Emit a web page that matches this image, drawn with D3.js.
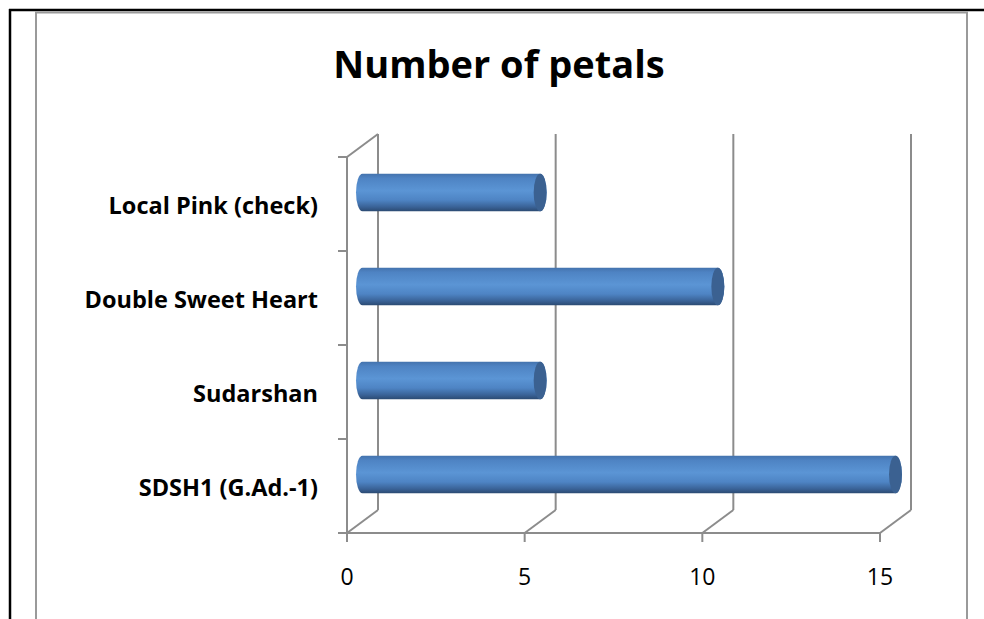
<!DOCTYPE html>
<html>
<head>
<meta charset="utf-8">
<script src="https://cdn.jsdelivr.net/npm/d3@7"></script>
<style>
  body { margin: 0; background: #fff; }
  svg { display: block; }
</style>
</head>
<body>
<div class="chart"></div>
<script>
// data, top to bottom as shown
const categories = ['Local Pink (check)', 'Double Sweet Heart', 'Sudarshan', 'SDSH1 (G.Ad.-1)'];
const petals = [5, 10, 5, 15];
const xTicks = [0, 5, 10, 15];
const title = 'Number of petals';

const W = 984, H = 619;
const gridColor = '#8c8c8c';
const font = '"Open Sans", "Noto Sans", sans-serif';

// depth of the 3d box
const depthX = 31, depthY = -23;

const svg = d3.select('.chart')
    .append('svg')
    .attr('width', W)
    .attr('height', H);

const defs = svg.append('defs');
const grad = defs.append('linearGradient')
    .attr('id', 'barGrad')
    .attr('x1', 0).attr('y1', 0)
    .attr('x2', 0).attr('y2', 1);
[['0%', '#4473ad'], ['12%', '#4e83c3'], ['45%', '#5b95d5'], ['70%', '#4e84c4'], ['88%', '#3a6398'], ['100%', '#2b4a72']]
    .forEach(s => grad.append('stop').attr('offset', s[0]).attr('stop-color', s[1]));

// outer frame
svg.append('line')
    .attr('x1', 9).attr('y1', 10).attr('x2', W).attr('y2', 10)
    .attr('stroke', '#000').attr('stroke-width', 2.5);
svg.append('line')
    .attr('x1', 10).attr('y1', 9).attr('x2', 10).attr('y2', H)
    .attr('stroke', '#000').attr('stroke-width', 2.5);
// chart area border
svg.append('path')
    .attr('d', 'M36,' + H + ' L36,12.5 L967,12.5 L967,' + H)
    .attr('fill', 'none')
    .attr('stroke', '#9a9a9a')
    .attr('stroke-width', 2);

// title
svg.append('text')
    .attr('x', 499)
    .attr('y', 78)
    .attr('text-anchor', 'middle')
    .style('font-family', font)
    .style('font-weight', 'bold')
    .style('font-size', '38px')
    .style('fill', '#000')
    .text(title);

const x = d3.scaleLinear().domain([0, 15]).range([347, 880]);
const y = d3.scaleBand().domain(categories).range([157, 533]);

const g = svg.append('g');

// back wall verticals
g.selectAll('.backGrid')
    .data(xTicks)
    .enter()
    .append('line')
    .attr('x1', d => x(d) + depthX)
    .attr('x2', d => x(d) + depthX)
    .attr('y1', y.range()[0] + depthY)
    .attr('y2', y.range()[1] + depthY)
    .attr('stroke', gridColor)
    .attr('stroke-width', 2);

// floor diagonals
g.selectAll('.floorGrid')
    .data(xTicks)
    .enter()
    .append('line')
    .attr('x1', d => x(d))
    .attr('y1', y.range()[1])
    .attr('x2', d => x(d) + depthX)
    .attr('y2', y.range()[1] + depthY)
    .attr('stroke', gridColor)
    .attr('stroke-width', 2);

// left wall top diagonal
g.append('line')
    .attr('x1', x(0)).attr('y1', y.range()[0])
    .attr('x2', x(0) + depthX).attr('y2', y.range()[0] + depthY)
    .attr('stroke', gridColor).attr('stroke-width', 2);

// left axis line + ticks
g.append('line')
    .attr('x1', x(0)).attr('x2', x(0))
    .attr('y1', y.range()[0]).attr('y2', y.range()[1])
    .attr('stroke', gridColor).attr('stroke-width', 2);
const bounds = categories.map(c => y(c)).concat([y.range()[1]]);
g.selectAll('.yTick')
    .data(bounds)
    .enter()
    .append('line')
    .attr('x1', x(0) - 9).attr('x2', x(0))
    .attr('y1', d => d).attr('y2', d => d)
    .attr('stroke', gridColor).attr('stroke-width', 2);

// bottom axis line + ticks
g.append('line')
    .attr('x1', x(0) - 9).attr('x2', x(15))
    .attr('y1', y.range()[1]).attr('y2', y.range()[1])
    .attr('stroke', gridColor).attr('stroke-width', 2);
g.selectAll('.xTick')
    .data(xTicks)
    .enter()
    .append('line')
    .attr('x1', d => x(d)).attr('x2', d => x(d))
    .attr('y1', y.range()[1]).attr('y2', y.range()[1] + 9)
    .attr('stroke', gridColor).attr('stroke-width', 2);

// tick labels
g.selectAll('.xLabel')
    .data(xTicks)
    .enter()
    .append('text')
    .attr('x', d => x(d))
    .attr('y', 585)
    .attr('text-anchor', 'middle')
    .style('font-family', font)
    .style('font-size', '23px')
    .style('fill', '#000')
    .text(d => d);

// category labels
g.selectAll('.yLabel')
    .data(categories)
    .enter()
    .append('text')
    .attr('x', 318)
    .attr('y', d => y(d) + y.bandwidth() / 2 + 10)
    .attr('text-anchor', 'end')
    .style('font-family', font)
    .style('font-weight', 'bold')
    .style('font-size', '23.5px')
    .style('fill', '#000')
    .text(d => d);

// cylinders, placed at half depth
const rx = 6.5;
const ry = y.bandwidth() * 0.2;
const bars = g.selectAll('.bar')
    .data(categories.map((c, i) => ({ name: c, value: petals[i] })))
    .enter()
    .append('g');

bars.append('path')
    .attr('d', d => {
        const x0 = x(0) + depthX / 2;
        const x1 = x(d.value) + depthX / 2;
        const cy = y(d.name) + y.bandwidth() / 2 + depthY / 2;
        const t = cy - ry, b = cy + ry;
        return 'M' + x0 + ',' + t + ' L' + x1 + ',' + t +
            ' A' + rx + ',' + ry + ' 0 0 1 ' + x1 + ',' + b +
            ' L' + x0 + ',' + b +
            ' A' + rx + ',' + ry + ' 0 0 1 ' + x0 + ',' + t + ' Z';
    })
    .attr('fill', 'url(#barGrad)');

bars.append('ellipse')
    .attr('cx', d => x(d.value) + depthX / 2)
    .attr('cy', d => y(d.name) + y.bandwidth() / 2 + depthY / 2)
    .attr('rx', rx)
    .attr('ry', ry)
    .attr('fill', '#3b6191');
</script>
</body>
</html>
